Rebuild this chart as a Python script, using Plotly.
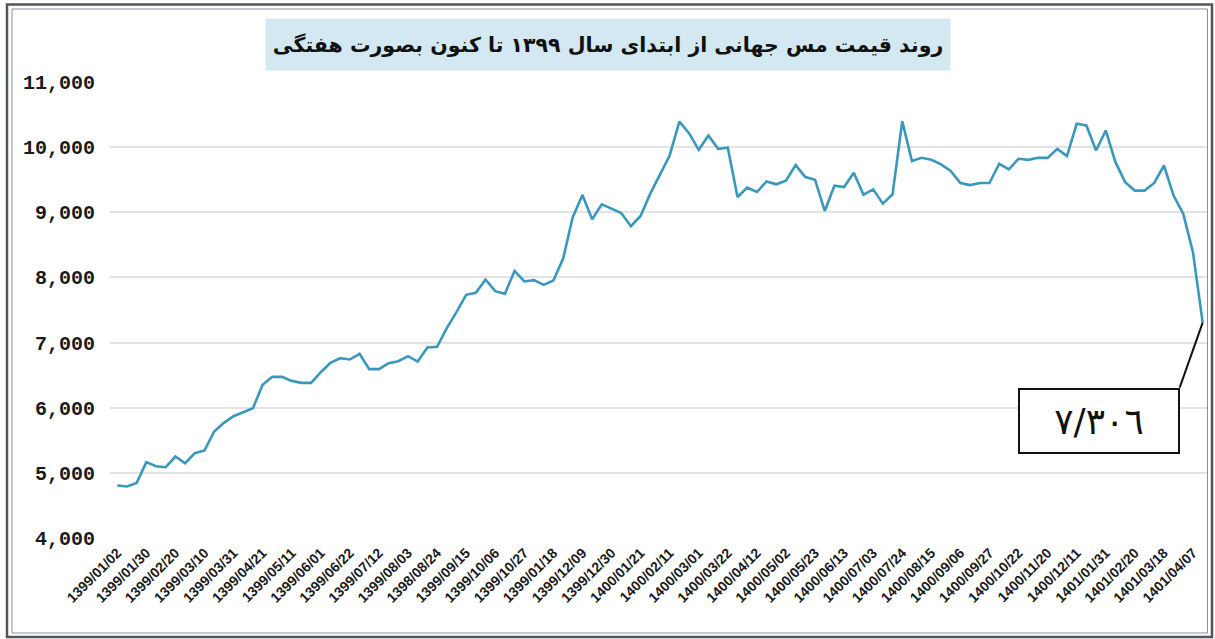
import plotly.graph_objects as go

# Weekly global copper price (USD/ton), 1399/01/02 .. 1401/04
prices = [
    4806, 4790, 4846, 5164, 5102, 5087, 5251, 5148, 5302, 5343,
    5635, 5768, 5870, 5931, 5993, 6351, 6474, 6474, 6412, 6382,
    6382, 6545, 6689, 6760, 6740, 6827, 6592, 6592, 6684, 6714,
    6791, 6709, 6924, 6934, 7221, 7467, 7733, 7764, 7968, 7789,
    7748, 8101, 7938, 7958, 7886, 7953, 8285, 8925, 9265, 8893,
    9122, 9056, 8990, 8786, 8944, 9286, 9582, 9872, 10393, 10214,
    9959, 10179, 9974, 9990, 9235, 9378, 9311, 9474, 9429, 9485,
    9725, 9541, 9500, 9020, 9408, 9388, 9607, 9270, 9352, 9133,
    9276, 10398, 9786, 9837, 9806, 9735, 9633, 9449, 9418, 9449,
    9449, 9745, 9660, 9821, 9805, 9836, 9836, 9974, 9862, 10359,
    10333, 9949, 10256, 9769, 9462, 9333, 9333, 9451, 9718, 9256,
    8974, 8385, 7306,
]
week_index = list(range(len(prices)))

tick_labels = [
    "1399/01/02", "1399/01/30", "1399/02/20", "1399/03/10", "1399/03/31",
    "1399/04/21", "1399/05/11", "1399/06/01", "1399/06/22", "1399/07/12",
    "1399/08/03", "1398/08/24", "1399/09/15", "1399/10/06", "1399/10/27",
    "1399/01/18", "1399/12/09", "1399/12/30", "1400/01/21", "1400/02/11",
    "1400/03/01", "1400/03/22", "1400/04/12", "1400/05/02", "1400/05/23",
    "1400/06/13", "1400/07/03", "1400/07/24", "1400/08/15", "1400/09/06",
    "1400/09/27", "1400/10/22", "1400/11/20", "1400/12/11", "1401/01/31",
    "1401/02/20", "1401/03/18", "1401/04/07",
]
tick_positions = [week_index[3 * i] for i in range(len(tick_labels))]

title_text = "روند قیمت مس جهانی از ابتدای سال ۱۳۹۹ تا کنون بصورت هفتگی"
last_label = "٧/٣٠٦"

W, H = 1215, 639
L, R, T, B = 110, 7, 82, 101
pw, ph = W - L - R, H - T - B


def px_x(px):
    return (px - L) / pw


def px_y(py):
    return (H - B - py) / ph


fig = go.Figure()
fig.add_trace(go.Scatter(
    x=week_index, y=prices, mode="lines",
    line=dict(color="#3a98bc", width=2.6),
    hoverinfo="skip", showlegend=False,
))

fig.update_layout(
    width=W, height=H,
    margin=dict(l=L, r=R, t=T, b=B),
    paper_bgcolor="white", plot_bgcolor="white",
    showlegend=False,
    xaxis=dict(
        range=[-0.75, 112.55],
        tickmode="array", tickvals=tick_positions, ticktext=tick_labels,
        tickangle=-45, showgrid=False, zeroline=False, showline=False,
        tickfont=dict(family="Liberation Sans", size=14, color="#1a1a1a", weight="bold"),
        ticks="", ticklabelstandoff=3,
    ),
    yaxis=dict(
        range=[4000, 11000], dtick=1000, tick0=4000,
        tickformat=",", showgrid=True, gridcolor="#e3e3e3", gridwidth=1.5,
        zeroline=False, showline=False, ticks="",
        tickfont=dict(family="Liberation Mono", size=20, color="#1a1a1a", weight="bold"),
        ticklabelstandoff=14,
    ),
)

# title box
fig.add_annotation(
    xref="paper", yref="paper", x=px_x(608), y=px_y(44.5),
    text="<b>" + title_text + "</b>", showarrow=False,
    bgcolor="#d3e8f0", width=684, height=51, borderpad=0,
    font=dict(family="DejaVu Sans", size=20.5, color="#111"),
    xanchor="center", yanchor="middle",
)

# last value callout
fig.add_annotation(
    xref="x", yref="y", x=week_index[-1], y=prices[-1],
    text=last_label, showarrow=True, arrowhead=0, arrowwidth=2,
    arrowcolor="#111", ax=-23, ay=65, xanchor="right", yanchor="top",
    bordercolor="#111", borderwidth=2, bgcolor="white", borderpad=0,
    width=158, height=62,
    font=dict(family="DejaVu Sans", size=36, color="#111"),
)

# double page border
fig.add_shape(type="rect", xref="paper", yref="paper",
              x0=px_x(7), x1=px_x(1212), y0=px_y(637), y1=px_y(4.5),
              line=dict(color="#50565e", width=2.5), layer="above")
fig.add_shape(type="rect", xref="paper", yref="paper",
              x0=px_x(12), x1=px_x(1207.5), y0=px_y(633), y1=px_y(9),
              line=dict(color="#8a9097", width=1), layer="above")

fig.write_html(
    "out.html",
    config={"displayModeBar": False},
    post_script="document.body.style.margin='0px';document.body.style.overflow='hidden';",
)
